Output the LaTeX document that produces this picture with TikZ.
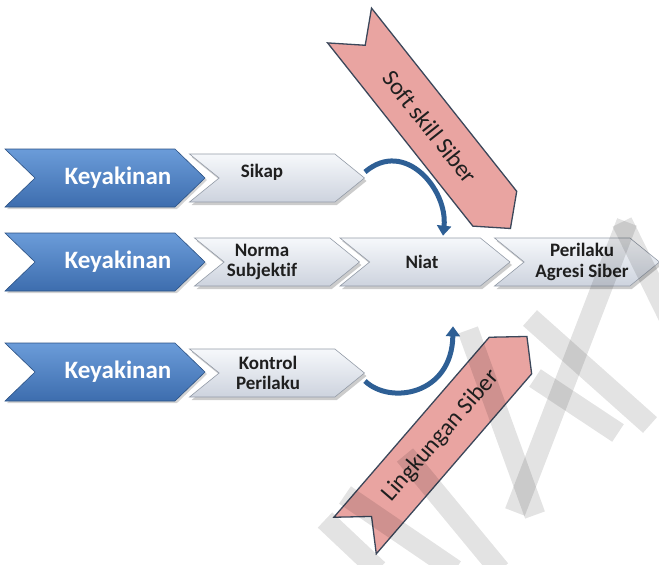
\documentclass[tikz,border=0pt]{standalone}
\usepackage{fontspec}
\setmainfont{Carlito}[Ligatures=NoCommon]
\usetikzlibrary{shapes.symbols,shadows,arrows.meta}

\definecolor{kblue1}{HTML}{6B9CD9}
\definecolor{kblue2}{HTML}{3D6DAE}
\definecolor{kedge}{HTML}{2C5284}
\definecolor{pale1}{HTML}{F6F8FB}
\definecolor{pale2}{HTML}{CDD3DE}
\definecolor{paleedge}{HTML}{939BA7}
\definecolor{pinkfill}{HTML}{E9A4A1}
\definecolor{pinkedge}{HTML}{3B475A}
\definecolor{curlblue}{HTML}{2E5F95}
\definecolor{inktext}{HTML}{1F1F1F}

\tikzset{
  chev/.style={signal, signal to=east, signal from=west, inner sep=0pt},
  beliefbox/.style={chev, minimum width=200pt, minimum height=58pt,
    signal pointer angle=88, top color=kblue1, bottom color=kblue2,
    draw=kedge, line width=0.6pt,
    drop shadow={shadow xshift=2pt, shadow yshift=-2pt, opacity=0.35}},
  belieftext/.style={text=white, font=\bfseries\fontsize{25}{28}\selectfont},
  stagebox/.style={chev, minimum width=#1, minimum height=48pt,
    signal pointer angle=78, top color=pale1, bottom color=pale2,
    draw=paleedge, line width=0.6pt,
    drop shadow={shadow xshift=2pt, shadow yshift=-3pt, opacity=0.4}},
  stagetext/.style={text=inktext, align=center,
    font=\bfseries\fontsize{19}{20.5}\selectfont},
  influence/.style={chev, minimum height=56pt, signal pointer angle=96,
    fill=pinkfill, draw=pinkedge, line width=1.3pt, text=inktext,
    font=\fontsize{24}{28}\selectfont},
  curl/.style={draw=curlblue, line width=5pt,
    -{Triangle[width=14pt,length=10pt]}},
  watermark/.style={draw=black, opacity=0.11, line width=21pt}
}

\begin{document}
\begin{tikzpicture}[x=1pt,y=-1pt]
\useasboundingbox (0,0) rectangle (659,565);

% row 1: attitude
\node[beliefbox] (k1) at (105,178) {};
\node[stagebox=175pt] (sikap) at (277,178) {};
\node[belieftext] (k1t) at ([xshift=13pt]k1.center) {Keyakinan};
\node[stagetext] (sikapt) at ([xshift=-15pt,yshift=6pt]sikap.center) {Sikap};

% row 2: subjective norm, intention, behaviour
\node[beliefbox] (k2) at (105,262) {};
\node[stagebox=165pt] (norma) at (277,262) {};
\node[stagebox=170pt] (niat) at (425,262) {};
\node[stagebox=165pt] (perilaku) at (577,262) {};
\node[belieftext] (k2t) at ([xshift=13pt]k2.center) {Keyakinan};
\node[stagetext] (normat) at ([xshift=-15pt]norma.center) {Norma\\Subjektif};
\node[stagetext] (niatt) at ([xshift=-3pt]niat.center) {Niat};
\node[stagetext] (perilakut) at ([xshift=5pt]perilaku.center) {Perilaku\\Agresi Siber};

% row 3: behavioural control
\node[beliefbox] (k3) at (105,372) {};
\node[stagebox=175pt] (kontrol) at (277,373) {};
\node[belieftext] (k3t) at ([xshift=13pt]k3.center) {Keyakinan};
\node[stagetext] (kontrolt) at ([xshift=-9pt]kontrol.center) {Kontrol\\Perilaku};

% curved links into the intention stage
\draw[curl] ([yshift=6pt]sikap.east) .. controls (405,138) and (448,190) .. ([xshift=18pt,yshift=2pt]niat.north);
\draw[curl] ([yshift=-8pt]kontrol.east) .. controls (390,405) and (452,395) .. ([xshift=28pt,yshift=-40pt]niat.south);

% external influences
\node[influence, minimum width=259pt, rotate=-51.6] (soft) at (430,127) {Soft skill Siber};
\node[influence, minimum width=263pt, rotate=49.2] (lingk) at (441,436) {Lingkungan Siber};

% faint diagonal strokes across the lower right
\draw[watermark] (627,222) -- (515,512);
\draw[watermark] (622,222) -- (690,360);
\draw[watermark] (530,318) -- (650,425);
\draw[watermark] (535,378) -- (618,433);
\draw[watermark] (468,330) -- (535,515);
\draw[watermark] (405,455) -- (500,570);
\draw[watermark] (345,495) -- (455,570);
\draw[watermark] (325,520) -- (378,570);
\end{tikzpicture}
\end{document}
